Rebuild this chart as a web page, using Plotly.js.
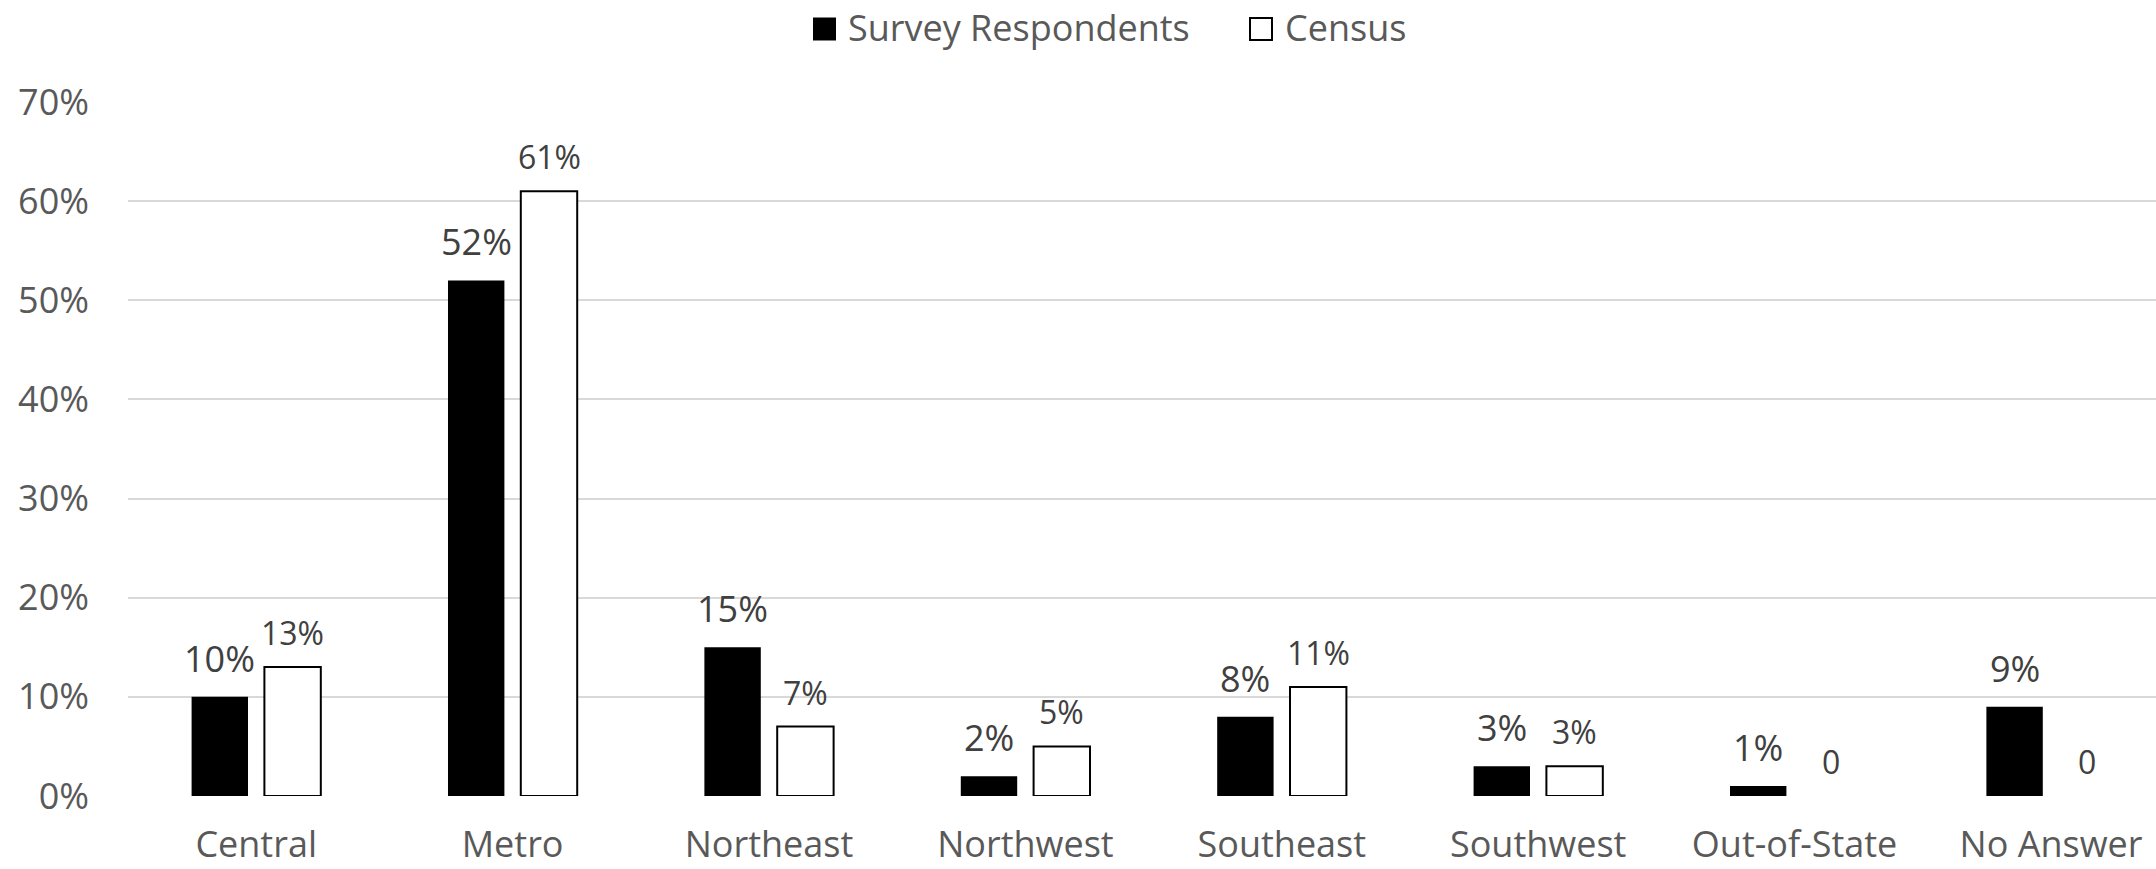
<!DOCTYPE html>
<html><head><meta charset="utf-8">
<script src="https://cdn.plot.ly/plotly-3.0.1.min.js"></script>
<style>html,body{margin:0;padding:0;background:#fff;} #chart{width:2156px;height:869px;}</style>
</head><body><div id="chart"></div>
<script>
const categories = ["Central","Metro","Northeast","Northwest","Southeast","Southwest","Out-of-State","No Answer"];
const seriesNames = ["Survey Respondents","Census"];
const surveyValues = [0.10,0.52,0.15,0.02,0.08,0.03,0.01,0.09];
const censusValues = [0.13,0.61,0.07,0.05,0.11,0.03,0,0];
const surveyLabels = ["10%","52%","15%","2%","8%","3%","1%","9%"];
const censusLabels = ["13%","61%","7%","5%","11%","3%","0","0"];
const yTickValues = [0,0.1,0.2,0.3,0.4,0.5,0.6,0.7];
const yTickLabels = ["0%","10%","20%","30%","40%","50%","60%","70%"];

const FONT = "Open Sans, Noto Sans, sans-serif";
const W = 2156, H = 869;
const M = {l:128, r:0, t:102, b:73};
const PW = W - M.l - M.r, PH = H - M.t - M.b;
const px2x = p => (p - M.l) / PW;
const py2y = p => (H - M.b - p) / PH;

const BW = 0.22, OFF_S = -0.252, OFF_C = 0.032;

const traces = [
  {type:'bar', name:seriesNames[0], x:categories, y:surveyValues, width:BW, offset:OFF_S,
   marker:{color:'#000000', line:{width:0}}, showlegend:false, hoverinfo:'skip'},
  {type:'bar', name:seriesNames[1], x:categories, y:censusValues, width:BW, offset:OFF_C,
   marker:{color:'#ffffff', line:{color:'#000000', width:censusValues.map(v => v > 0 ? 2 : 0)}},
   showlegend:false, hoverinfo:'skip'}
];

const annotations = [];
categories.forEach((c,i) => {
  annotations.push({xref:'x', yref:'y', x:i + OFF_S + BW/2, y:surveyValues[i], text:surveyLabels[i],
    showarrow:false, xanchor:'center', yanchor:'bottom', yshift:12,
    font:{family:FONT, size:36, color:'#404040'}});
  annotations.push({xref:'x', yref:'y', x:i + OFF_C + BW/2, y:censusValues[i], text:censusLabels[i],
    showarrow:false, xanchor:'center', yanchor:'bottom', yshift:11,
    font:{family:FONT, size:32, color:'#404040'}});
});
// legend texts
annotations.push({xref:'paper', yref:'paper', x:px2x(846), y:py2y(27), text:seriesNames[0], showarrow:false,
  xanchor:'left', yanchor:'middle', font:{family:FONT, size:36, color:'#595959'}});
annotations.push({xref:'paper', yref:'paper', x:px2x(1283), y:py2y(27), text:seriesNames[1], showarrow:false,
  xanchor:'left', yanchor:'middle', font:{family:FONT, size:36, color:'#595959'}});

const shapes = [
  {type:'rect', xref:'paper', yref:'paper', xsizemode:'pixel', ysizemode:'pixel',
   xanchor:px2x(824.5), yanchor:py2y(29), x0:-11.5, x1:11.5, y0:-11.5, y1:11.5,
   fillcolor:'#000000', line:{width:0}},
  {type:'rect', xref:'paper', yref:'paper', xsizemode:'pixel', ysizemode:'pixel',
   xanchor:px2x(1261), yanchor:py2y(29), x0:-11, x1:11, y0:-11, y1:11,
   fillcolor:'#ffffff', line:{color:'#000000', width:2}}
];

const layout = {
  width:W, height:H, margin:M, paper_bgcolor:'#ffffff', plot_bgcolor:'#ffffff',
  barmode:'overlay', showlegend:false,
  font:{family:FONT, color:'#595959'},
  xaxis:{type:'category', range:[-0.5, -0.5 + PW/256.4], showgrid:false, zeroline:false, showline:false,
    ticks:'', ticklabelstandoff:24, tickfont:{family:FONT, size:36, color:'#595959'}, fixedrange:true},
  yaxis:{range:[0,0.7], tickvals:yTickValues, ticktext:yTickLabels, showgrid:true, gridcolor:'#d9d9d9', gridwidth:2,
    zeroline:false, showline:false, ticks:'', ticklabelstandoff:38,
    tickfont:{family:FONT, size:36, color:'#595959'}, fixedrange:true},
  annotations:annotations, shapes:shapes
};

Plotly.newPlot('chart', traces, layout, {staticPlot:true, displayModeBar:false});
</script>
</body></html>
